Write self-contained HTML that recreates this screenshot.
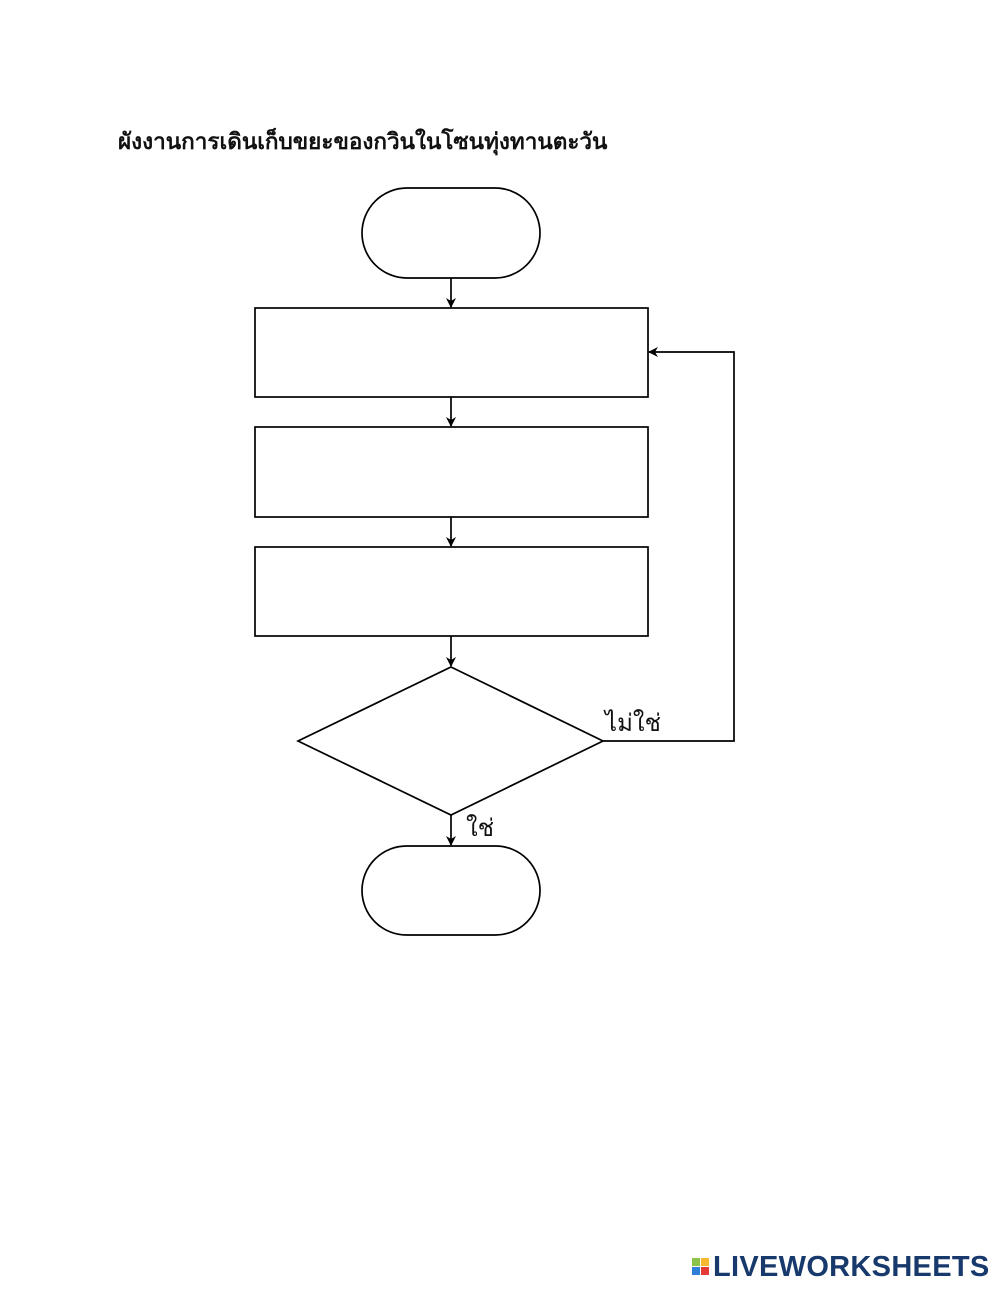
<!DOCTYPE html>
<html><head><meta charset="utf-8"><style>
body{margin:0;width:1000px;height:1294px;background:#fff;overflow:hidden;position:relative;font-family:"Liberation Sans","DejaVu Sans",sans-serif}
.t{position:absolute;left:118px;top:123px;font-size:22.5px;font-weight:bold;color:#111;white-space:nowrap}
.l{position:absolute;color:#111;font-size:24px}
.logo{position:absolute;left:713px;top:1251px;font-size:29px;font-weight:bold;color:#17396b;letter-spacing:0.3px;white-space:nowrap}
</style></head><body>
<div class="t">ผังงานการเดินเก็บขยะของกวินในโซนทุ่งทานตะวัน</div>
<svg width="1000" height="1294" style="position:absolute;left:0;top:0">
<defs><marker id="a" markerWidth="10" markerHeight="10" refX="9" refY="5" orient="auto" markerUnits="userSpaceOnUse"><path d="M0,0 L10,5 L0,10 L3,5z" fill="#000"/></marker></defs>
<g fill="#fff" stroke="#000" stroke-width="1.7">
<rect x="362" y="188" width="178" height="90" rx="45"/>
<rect x="255" y="308" width="393" height="89"/>
<rect x="255" y="427" width="393" height="90"/>
<rect x="255" y="547" width="393" height="89"/>
<polygon points="451,667 603,741 451,815 298,741"/>
<rect x="362" y="846" width="178" height="89" rx="44.5"/>
</g>
<g stroke="#000" stroke-width="1.7" fill="none">
<line x1="451" y1="278" x2="451" y2="307" marker-end="url(#a)"/>
<line x1="451" y1="397" x2="451" y2="426" marker-end="url(#a)"/>
<line x1="451" y1="517" x2="451" y2="546" marker-end="url(#a)"/>
<line x1="451" y1="636" x2="451" y2="666" marker-end="url(#a)"/>
<line x1="451" y1="815" x2="451" y2="845" marker-end="url(#a)"/>
<polyline points="603,741 734,741 734,352 649,352" marker-end="url(#a)"/>
</g>
<rect x="692" y="1258" width="8" height="8" fill="#8bc34a"/><rect x="701" y="1258" width="8" height="8" fill="#f5b82e"/>
<rect x="692" y="1267" width="8" height="8" fill="#2f7fd8"/><rect x="701" y="1267" width="8" height="8" fill="#e53935"/>
</svg>
<div class="l" style="left:605px;top:703px">ไม่ใช่</div>
<div class="l" style="left:466px;top:808px">ใช่</div>
<div class="logo">LIVEWORKSHEETS</div>
</body></html>
